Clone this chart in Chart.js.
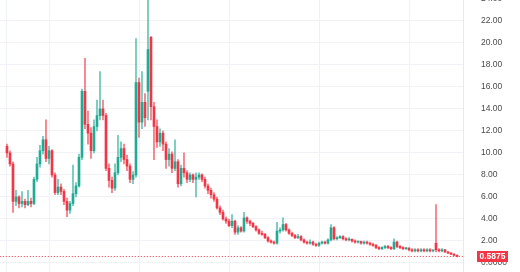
<!DOCTYPE html>
<html>
<head>
<meta charset="utf-8">
<script src="https://cdn.jsdelivr.net/npm/chart.js@4.4.1/dist/chart.umd.min.js"></script>
<style>
  html, body { margin: 0; padding: 0; background: #fff; }
  #wrap { width: 520px; height: 272px; position: relative; }
</style>
</head>
<body>
<div id="wrap"><canvas id="priceChart"></canvas></div>
<script>
// OHLC candles, one per period
const opens = [
  10.6, 10.0, 9.0, 5.6, 6.0, 5.4, 5.6, 5.3, 5.6, 5.4,
  7.6, 9.0, 10.2, 11.2, 9.5, 10.2, 8.0, 6.4, 6.9, 6.5,
  5.6, 4.8, 5.4, 6.3, 7.0, 9.6, 15.6, 12.6, 11.8, 10.2,
  12.4, 13.4, 14.0, 13.4, 8.6, 7.5, 6.8, 8.2, 9.6, 10.4,
  9.4, 8.8, 7.6, 8.0, 16.4, 12.8, 14.6, 15.6, 20.5, 14.2,
  12.4, 11.0, 11.8, 10.8, 9.4, 9.9, 8.6, 9.2, 7.2, 8.6,
  8.2, 7.6, 8.0, 7.6, 7.8, 8.0, 7.6, 7.0, 6.6, 6.2,
  5.8, 5.0, 4.6, 4.0, 3.8, 3.4, 3.8, 2.8, 3.2, 2.9,
  4.1, 3.8, 3.6, 3.3, 3.0, 2.7, 2.6, 2.3, 2.0, 1.9,
  1.8, 2.9, 3.0, 3.5, 3.0, 2.7, 2.5, 2.3, 2.4, 2.1,
  1.9, 1.8, 1.9, 1.7, 1.6, 1.8, 1.9, 1.8, 2.1, 3.2,
  2.2, 2.3, 2.4, 2.2, 2.1, 2.15, 2.0, 1.9, 1.95, 1.8,
  1.9, 1.8, 1.7, 1.6, 1.4, 1.3, 1.4, 1.5, 1.4, 1.3,
  1.9, 1.5, 1.4, 1.3, 1.35, 1.2, 1.1, 1.2, 1.1, 1.2,
  1.1, 1.2, 1.1, 1.8, 1.2, 1.1, 1.2, 1.0, 0.9, 0.8,
  0.7
];
const highs = [
  10.8, 10.2, 9.2, 6.6, 6.1, 6.5, 5.8, 6.6, 5.9, 7.8,
  9.6, 10.7, 11.5, 13.0, 10.6, 10.3, 8.2, 7.6, 7.2, 6.7,
  5.9, 5.6, 8.9, 7.3, 9.9, 15.8, 18.6, 13.8, 12.3, 13.0,
  14.8, 17.4, 14.8, 13.6, 9.0, 7.8, 9.0, 11.6, 11.0, 10.8,
  9.8, 9.0, 8.3, 20.4, 16.8, 17.4, 15.4, 24.2, 20.6, 14.6,
  13.0, 12.2, 12.0, 11.0, 10.4, 10.1, 11.2, 9.4, 8.9, 10.0,
  8.4, 8.2, 8.1, 8.2, 8.2, 8.1, 7.8, 7.2, 6.8, 6.4,
  6.0, 5.2, 4.8, 4.2, 4.0, 4.4, 3.9, 3.4, 3.3, 4.6,
  4.2, 3.9, 3.7, 3.4, 3.1, 2.9, 2.7, 2.4, 2.1, 2.0,
  3.7, 3.2, 4.1, 3.6, 3.1, 2.8, 2.6, 2.6, 2.5, 2.2,
  2.0, 2.1, 2.0, 1.8, 1.9, 2.0, 2.0, 2.2, 3.5, 3.3,
  2.4, 2.5, 2.5, 2.3, 2.3, 2.2, 2.1, 2.0, 2.0, 2.0,
  2.0, 1.9, 1.8, 1.7, 1.5, 1.5, 1.6, 1.6, 1.5, 2.2,
  2.0, 1.6, 1.5, 1.4, 1.4, 1.3, 1.3, 1.3, 1.3, 1.3,
  1.3, 1.3, 1.2, 5.3, 1.3, 1.3, 1.25, 1.05, 0.95, 0.85,
  0.75
];
const lows = [
  9.6, 8.8, 4.6, 5.2, 5.0, 5.1, 5.0, 5.2, 5.1, 5.3,
  7.4, 8.7, 9.9, 9.2, 9.0, 7.8, 6.2, 6.2, 6.2, 5.3,
  4.2, 4.5, 5.2, 6.0, 6.9, 9.4, 12.2, 10.8, 9.5, 10.0,
  12.0, 13.0, 13.0, 8.4, 6.9, 6.4, 6.6, 8.0, 9.2, 9.0,
  8.4, 7.3, 7.2, 7.8, 11.4, 12.2, 12.4, 13.0, 13.0, 9.4,
  10.5, 10.6, 10.2, 8.6, 8.8, 8.2, 8.4, 6.9, 7.0, 7.8,
  7.3, 7.4, 7.3, 6.0, 7.6, 7.4, 6.8, 6.3, 5.9, 5.6,
  4.9, 4.4, 3.9, 3.6, 3.3, 3.2, 2.6, 2.6, 2.8, 2.8,
  3.6, 3.4, 3.2, 2.9, 2.6, 2.5, 2.2, 1.9, 1.8, 1.7,
  1.7, 2.7, 2.9, 2.9, 2.6, 2.4, 2.2, 2.2, 2.0, 1.8,
  1.7, 1.7, 1.6, 1.5, 1.5, 1.7, 1.7, 1.7, 2.0, 2.1,
  2.1, 2.2, 2.1, 2.0, 2.0, 1.9, 1.8, 1.8, 1.7, 1.7,
  1.7, 1.6, 1.5, 1.3, 1.2, 1.2, 1.3, 1.3, 1.2, 1.2,
  1.4, 1.3, 1.2, 1.2, 1.1, 1.0, 1.0, 1.0, 1.0, 1.0,
  1.0, 1.0, 1.0, 1.0, 1.0, 1.0, 0.95, 0.85, 0.75, 0.65,
  0.55
];
const closes = [
  10.0, 9.0, 5.6, 6.0, 5.4, 5.6, 5.3, 5.6, 5.4, 7.6,
  9.0, 10.2, 11.2, 9.5, 10.2, 8.0, 6.4, 6.9, 6.5, 5.6,
  4.8, 5.4, 6.3, 7.0, 9.6, 15.6, 12.6, 11.8, 10.2, 12.4,
  13.4, 14.0, 13.4, 8.6, 7.5, 6.8, 8.2, 9.6, 10.4, 9.4,
  8.8, 7.6, 8.0, 16.4, 12.8, 14.6, 13.2, 19.4, 14.2, 12.4,
  11.0, 11.8, 10.8, 9.4, 9.9, 8.6, 9.2, 7.2, 8.6, 8.2,
  7.6, 8.0, 7.6, 7.8, 8.0, 7.6, 7.0, 6.6, 6.2, 5.8,
  5.0, 4.6, 4.0, 3.8, 3.4, 3.8, 2.8, 3.2, 2.9, 4.1,
  3.8, 3.6, 3.3, 3.0, 2.7, 2.6, 2.3, 2.0, 1.9, 1.8,
  2.9, 3.0, 3.5, 3.0, 2.7, 2.5, 2.3, 2.4, 2.1, 1.9,
  1.8, 1.9, 1.7, 1.6, 1.8, 1.9, 1.8, 2.1, 3.2, 2.2,
  2.3, 2.4, 2.2, 2.1, 2.15, 2.0, 1.9, 1.95, 1.8, 1.9,
  1.8, 1.7, 1.6, 1.4, 1.3, 1.4, 1.5, 1.4, 1.3, 1.9,
  1.5, 1.4, 1.3, 1.35, 1.2, 1.1, 1.2, 1.1, 1.2, 1.1,
  1.2, 1.1, 1.15, 1.2, 1.1, 1.2, 1.0, 0.9, 0.8, 0.7,
  0.5875
];
const priceTicks = [0, 2, 4, 6, 8, 10, 12, 14, 16, 18, 20, 22, 24];

const upColor = "#22ab94";
const downColor = "#f23645";
const lastPrice = closes[closes.length - 1];

const bodyColors = closes.map((c, i) => c >= opens[i] ? upColor : downColor);
const wickColors = closes.map((c, i) => c >= opens[i] ? "rgba(34,171,148,0.7)" : "rgba(242,54,69,0.7)");

// last price badge on the right axis
const lastPriceLabel = {
    id: "lastPriceLabel",
    afterDraw(chart) {
        const ctx = chart.ctx;
        const y = Math.round(chart.scales.y.getPixelForValue(lastPrice));
        const x = chart.chartArea.right + 14;
        ctx.save();
        ctx.fillStyle = downColor;
        ctx.fillRect(x, y - 6, 31, 11);
        ctx.fillStyle = "#fff";
        ctx.font = "bold 8.5px 'Liberation Sans', Arial, sans-serif";
        ctx.textAlign = "center";
        ctx.textBaseline = "middle";
        ctx.fillText(lastPrice.toFixed(4), x + 15.5, y);
        ctx.restore();
    }
};

const ctx = document.getElementById("priceChart").getContext("2d");
new Chart(ctx, {
    type: "bar",
    data: {
        datasets: [
            {
                label: "body",
                data: closes.map((c, i) => ({ x: i, y: [opens[i], c] })),
                backgroundColor: bodyColors,
                barThickness: 2,
                minBarLength: 1,
                grouped: false,
                order: 1
            },
            {
                label: "wick",
                data: closes.map((c, i) => ({ x: i, y: [lows[i], highs[i]] })),
                backgroundColor: wickColors,
                barThickness: 1,
                grouped: false,
                order: 2
            },
            {
                type: "line",
                label: "last",
                data: [{ x: -2.4, y: lastPrice }, { x: 152, y: lastPrice }],
                borderColor: downColor,
                borderWidth: 1,
                borderDash: [1, 2],
                pointRadius: 0,
                order: 0
            }
        ]
    },
    options: {
        responsive: true,
        maintainAspectRatio: false,
        animation: false,
        layout: { padding: 0 },
        plugins: {
            legend: { display: false },
            tooltip: { enabled: false }
        },
        scales: {
            x: {
                type: "linear",
                min: -2.33,
                max: 152,
                offset: false,
                afterBuildTicks: scale => {
                    scale.ticks = [0, 14.33, 44.33, 74.33, 104.33, 134.33].map(v => ({ value: v }));
                },
                grid: { color: "#eef1f6", drawTicks: false, offset: false },
                border: { display: false },
                ticks: { display: false }
            },
            y: {
                position: "right",
                min: -0.82,
                max: 23.9,
                afterBuildTicks: scale => {
                    scale.ticks = priceTicks.map(v => ({ value: v }));
                },
                afterFit: scale => {
                    scale.width = 57;
                    // let the plot run to the canvas edges, labels get cut like the screenshot
                    scale.paddingTop = 0;
                    scale.paddingBottom = 0;
                },
                grid: { color: "#f0f2f7", drawTicks: false },
                border: { display: true, color: "#e6e9ef" },
                ticks: {
                    padding: 18,
                    crossAlign: "near",
                    color: "#4a4a4a",
                    font: { family: "'Liberation Sans', Arial, sans-serif", size: 8.5 },
                    callback: v => v === 0 ? "0.0000" : v.toFixed(2)
                }
            }
        }
    },
    plugins: [lastPriceLabel]
});
</script>
</body>
</html>
